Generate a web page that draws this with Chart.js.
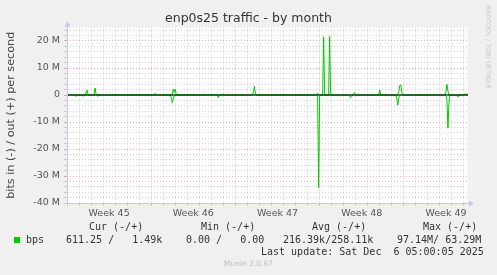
<!DOCTYPE html>
<html>
<head>
<meta charset="utf-8">
<script src="https://cdn.jsdelivr.net/npm/chart.js@4.4.0/dist/chart.umd.min.js"></script>
<style>
    body { margin: 0; background: #f0f0f0; }
    #wrap { position: relative; width: 497px; height: 275px; overflow: hidden; font-family: 'DejaVu Sans', sans-serif; }
    canvas { position: absolute; left: 0; top: 0; }
    .t { position: absolute; white-space: pre; line-height: 1; }
    .mono { font-family: 'DejaVu Sans Mono', monospace; font-size: 10px; color: #333; }
</style>
</head>
<body>
<div id="wrap">
    <canvas id="trafficChart" width="497" height="275"></canvas>
    <div class="t" style="left:0;width:497px;text-align:center;top:12px;font-size:12.5px;color:#333;">enp0s25 traffic - by month</div>
    <div class="t" style="left:484px;top:5px;font-size:6.5px;color:#c8c8c8;writing-mode:vertical-rl;">RRDTOOL / TOBI OETIKER</div>

    <div class="t mono" style="left:89px;top:222px;">Cur (-/+)</div>
    <div class="t mono" style="left:201px;top:222px;">Min (-/+)</div>
    <div class="t mono" style="left:312px;top:222px;">Avg (-/+)</div>
    <div class="t mono" style="left:423px;top:222px;">Max (-/+)</div>

    <div style="position:absolute;left:14px;top:237px;width:6px;height:6px;background:#00cc00;"></div>
    <div class="t mono" style="left:26px;top:235px;">bps</div>
    <div class="t mono" style="left:66px;top:235px;">611.25 /   1.49k</div>
    <div class="t mono" style="left:186px;top:235px;">0.00 /   0.00</div>
    <div class="t mono" style="left:283px;top:235px;">216.39k/258.11k</div>
    <div class="t mono" style="left:397px;top:235px;">97.14M/ 63.29M</div>

    <div class="t mono" style="left:261px;top:247px;">Last update: Sat Dec  6 05:00:05 2025</div>
    <div class="t" style="left:0;width:497px;text-align:center;top:260px;font-size:7.5px;color:#bdbdbd;">Munin 2.0.67</div>
</div>
<script>
// hours since start of week 45, value in Mbit/s
const outPoints = [
    [0, 0], [36, 0], [38, 0.8], [40, 1.8], [42, 0], [54, 0], [56, 2.6], [58, 0.4], [60, 0],
    [174, 0], [176, 0.6], [178, 0], [210, 0], [212, 2.2], [214, 1.0], [216, 2.2], [218, 0],
    [310, 0], [312, 0.5], [314, 0], [370, 0], [372, 1.2], [374, 3.3], [376, 0.3], [378, 0],
    [498, 0], [500, 0.7], [502, 0], [510, 0], [512, 21.6], [514, 0], [522, 0], [524, 21.7], [526, 0],
    [570, 0], [572, 0.6], [574, 0.9], [576, 0], [622, 0], [624, 1.9], [626, 0],
    [660, 0], [662, 1.2], [664, 3.6], [666, 3.7], [668, 0.8], [670, 0],
    [754, 0], [756, 1.0], [758, 4.0], [760, 1.5], [762, 0],
    [790, 0], [792, 0.3], [794, 0.2], [796, 0.3], [800, 0.3]
];
const inPoints = [
    [0, 0], [16, 0], [18, -0.6], [20, 0], [30, 0], [32, -0.5], [34, 0], [60, 0], [62, -0.5], [64, 0],
    [206, 0], [208, -1.0], [210, -2.8], [212, -1.5], [214, 0],
    [300, 0], [302, -1.0], [304, 0], [331, 0], [333, -0.3], [335, 0], [355, 0], [357, -0.4], [359, 0],
    [498, 0], [500, -0.4], [502, -34.3], [504, 0], [513, 0], [515, -0.3], [517, 0], [524, 0], [526, -0.3], [528, 0],
    [544, 0], [546, -0.3], [548, 0], [562, 0], [564, -0.4], [566, -1.0], [568, -0.6], [570, 0],
    [643, 0], [645, -0.3], [647, 0], [656, 0], [658, -1.5], [660, -3.7], [662, -1.0], [664, 0],
    [716, 0], [718, -0.3], [720, 0], [756, 0], [758, -2.0], [760, -12.3], [762, -3.0], [764, 0],
    [778, 0], [780, -0.8], [782, 0], [800, 0]
];
const weekLabels = ['Week 45', 'Week 46', 'Week 47', 'Week 48', 'Week 49'];
const weekLabelHours = [84, 252, 420, 588, 756];
const dayHours = [0, 24, 48, 72, 96, 120, 144, 168, 192, 216, 240, 264, 288, 312, 336, 360, 384, 408,
    432, 456, 480, 504, 528, 552, 576, 600, 624, 648, 672, 696, 720, 744, 768, 792];
const yTicksM = [-40, -38, -36, -34, -32, -30, -28, -26, -24, -22, -20, -18, -16, -14, -12, -10, -8, -6, -4, -2,
    0, 2, 4, 6, 8, 10, 12, 14, 16, 18, 20, 22, 24];

const MAJOR = 'rgba(220, 120, 120, 0.6)';
const MINOR = 'rgba(180, 180, 180, 0.6)';
const AXIS = '#c4c6ee';

document.addEventListener('DOMContentLoaded', () => {
    const toXY = pts => pts.map(p => ({ x: p[0], y: p[1] * 1e6 }));

    // white canvas + rrdtool style axes with arrows
    const frame = {
        id: 'frame',
        beforeDraw(chart) {
            const { ctx, chartArea: a } = chart;
            ctx.save();
            ctx.fillStyle = '#ffffff';
            ctx.fillRect(a.left, a.top, a.right - a.left, a.bottom - a.top);
            ctx.restore();
        },
        afterDatasetsDraw(chart) {
            const { ctx, chartArea: a } = chart;
            ctx.save();
            ctx.strokeStyle = AXIS;
            ctx.fillStyle = AXIS;
            ctx.lineWidth = 1;
            ctx.beginPath();
            ctx.moveTo(a.left + 0.5, a.bottom + 3);
            ctx.lineTo(a.left + 0.5, a.top - 2);
            ctx.moveTo(a.left - 3, a.bottom + 0.5);
            ctx.lineTo(a.right + 2, a.bottom + 0.5);
            ctx.stroke();
            ctx.beginPath();
            ctx.moveTo(a.left + 0.5, a.top - 6);
            ctx.lineTo(a.left - 2.5, a.top - 1);
            ctx.lineTo(a.left + 3.5, a.top - 1);
            ctx.fill();
            ctx.beginPath();
            ctx.moveTo(a.right + 6, a.bottom + 0.5);
            ctx.lineTo(a.right + 1, a.bottom - 2.5);
            ctx.lineTo(a.right + 1, a.bottom + 3.5);
            ctx.fill();
            ctx.restore();
        }
    };

    const ctx = document.getElementById('trafficChart').getContext('2d');
    new Chart(ctx, {
        type: 'line',
        data: {
            datasets: [
                {
                    label: 'zero',
                    data: [{ x: 0, y: 0 }, { x: 800, y: 0 }],
                    borderColor: '#000000',
                    borderWidth: 1
                },
                {
                    label: 'bps out',
                    data: toXY(outPoints),
                    borderColor: '#00cc00',
                    borderWidth: 1
                },
                {
                    label: 'bps in',
                    data: toXY(inPoints),
                    borderColor: '#00cc00',
                    borderWidth: 1
                }
            ]
        },
        options: {
            responsive: false,
            animation: false,
            devicePixelRatio: 1,
            layout: { padding: { left: 0, top: 27.5, right: 29, bottom: 0 } },
            elements: { point: { radius: 0 }, line: { tension: 0 } },
            plugins: { legend: { display: false }, tooltip: { enabled: false } },
            scales: {
                x: {
                    type: 'linear',
                    min: 0,
                    max: 800,
                    afterBuildTicks: s => {
                        s.ticks = dayHours.concat(weekLabelHours).sort((a, b) => a - b).map(v => ({ value: v }));
                    },
                    afterFit: s => { s.height = 72; },
                    grid: {
                        color: c => weekLabelHours.includes(c.tick.value) ? 'rgba(0,0,0,0)' : (c.tick.value % 168 === 0 ? MAJOR : MINOR),
                        tickColor: c => weekLabelHours.includes(c.tick.value) ? 'rgba(0,0,0,0)' : (c.tick.value % 168 === 0 ? MAJOR : MINOR),
                        tickLength: 3
                    },
                    border: { display: false, dash: [1, 2] },
                    ticks: {
                        autoSkip: false,
                        maxRotation: 0,
                        padding: 2,
                        color: '#555',
                        font: { family: 'DejaVu Sans', size: 9.5 },
                        callback: v => {
                            const i = weekLabelHours.indexOf(v);
                            return i >= 0 ? weekLabels[i] : '';
                        }
                    }
                },
                y: {
                    type: 'linear',
                    min: -40e6,
                    max: 25e6,
                    afterBuildTicks: s => {
                        s.ticks = yTicksM.map(v => ({ value: v * 1e6 }));
                    },
                    afterFit: s => { s.width = 67; },
                    grid: {
                        color: c => (c.tick.value % 10e6 === 0 ? MAJOR : MINOR),
                        tickColor: c => (c.tick.value % 10e6 === 0 ? MAJOR : MINOR),
                        tickLength: 3
                    },
                    border: { display: false, dash: [1, 2] },
                    title: {
                        display: true,
                        text: 'bits in (-) / out (+) per second',
                        color: '#444',
                        font: { family: 'DejaVu Sans', size: 11.2 },
                        padding: { top: 4, bottom: 0 }
                    },
                    ticks: {
                        autoSkip: false,
                        padding: 4,
                        color: '#555',
                        font: { family: 'DejaVu Sans', size: 9.5 },
                        callback: v => (v % 10e6 === 0 ? (v === 0 ? '0' : (v / 1e6) + ' M') : '')
                    }
                }
            }
        },
        plugins: [frame]
    });
});
</script>
</body>
</html>
